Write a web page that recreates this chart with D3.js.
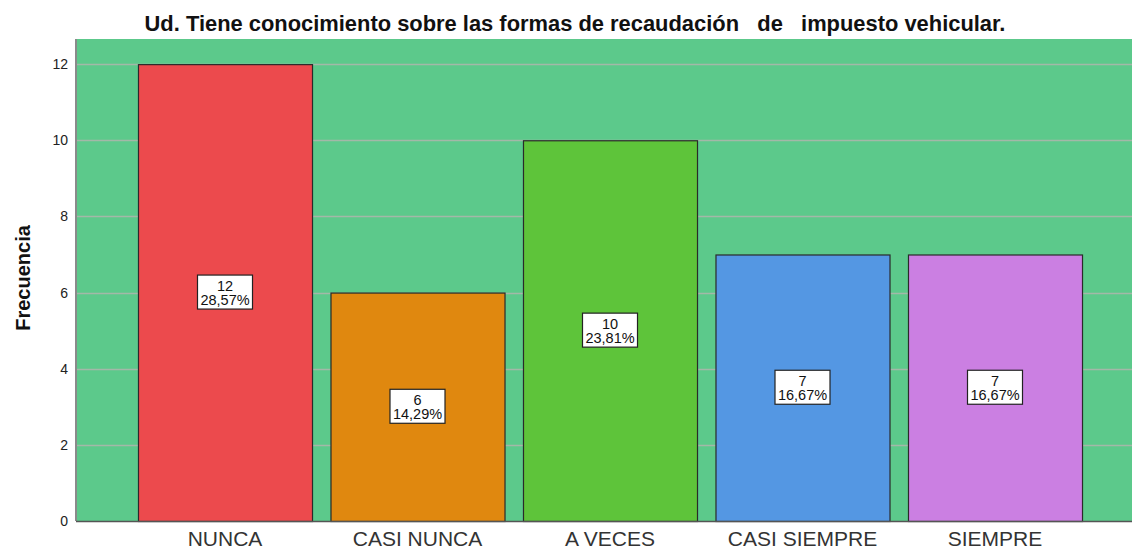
<!DOCTYPE html>
<html>
<head>
<meta charset="utf-8">
<script src="https://cdn.jsdelivr.net/npm/d3@7"></script>
<style>
  body { margin: 0; background: #fff; }
  svg { display: block; font-family: "Liberation Sans", Arial, sans-serif; }
</style>
</head>
<body>
<div id="chart"></div>
<script>
const categories = ['NUNCA', 'CASI NUNCA', 'A VECES', 'CASI SIEMPRE', 'SIEMPRE'];
const counts = [12, 6, 10, 7, 7];
const percents = ['28,57%', '14,29%', '23,81%', '16,67%', '16,67%'];
const colors = ['#ec4a4d', '#e0880f', '#5ec43a', '#5497e3', '#cb7fe2'];
const yTicks = [0, 2, 4, 6, 8, 10, 12];
const title = 'Ud. Tiene conocimiento sobre las formas de recaudación   de   impuesto vehicular.';

const W = 1132, H = 548;
const plot = { left: 76, right: 1132, top: 39, bottom: 521 };

const svg = d3.select('#chart').append('svg')
  .attr('width', W)
  .attr('height', H);

// Scales
const x = d3.scaleBand()
  .domain(categories)
  .range([128.75, 1091.25])
  .paddingInner(0.096)
  .paddingOuter(0.048);

const y = d3.scaleLinear()
  .domain([0, 12.66])
  .range([plot.bottom, plot.top]);

// Plot background
svg.append('rect')
  .attr('x', plot.left)
  .attr('y', plot.top)
  .attr('width', plot.right - plot.left)
  .attr('height', plot.bottom - plot.top)
  .attr('fill', '#5cc98b');

// Gridlines
svg.append('g')
  .selectAll('line')
  .data(yTicks.filter(d => d > 0))
  .enter()
  .append('line')
  .attr('x1', plot.left)
  .attr('x2', plot.right)
  .attr('y1', d => Math.round(y(d)) + 0.5)
  .attr('y2', d => Math.round(y(d)) + 0.5)
  .attr('stroke', '#a3b8a8')
  .attr('stroke-width', 1.5);

// Y axis
const yAxis = svg.append('g')
  .attr('transform', `translate(${plot.left},0)`)
  .call(d3.axisLeft(y).tickValues(yTicks).tickSize(0).tickPadding(8));
yAxis.select('.domain')
  .attr('stroke', '#8a8a8a')
  .attr('stroke-width', 2)
  .attr('d', `M0,${plot.top}V${plot.bottom}`);
yAxis.selectAll('text')
  .attr('font-size', '14px')
  .attr('fill', '#222')
  .style('font-family', '"Liberation Sans", Arial, sans-serif');

// Bars
svg.append('g')
  .selectAll('rect')
  .data(categories)
  .enter()
  .append('rect')
  .attr('x', d => x(d) + 0.5)
  .attr('y', (d, i) => y(counts[i]) + 0.5)
  .attr('width', x.bandwidth())
  .attr('height', (d, i) => y(0) - y(counts[i]))
  .attr('fill', (d, i) => colors[i])
  .attr('stroke', '#2a2a2a')
  .attr('stroke-width', 1.2);

// X axis line
svg.append('line')
  .attr('x1', plot.left)
  .attr('x2', plot.right)
  .attr('y1', plot.bottom + 0.5)
  .attr('y2', plot.bottom + 0.5)
  .attr('stroke', '#555')
  .attr('stroke-width', 1.5);

// X labels
const xAxis = svg.append('g')
  .attr('transform', `translate(0,${plot.bottom})`)
  .call(d3.axisBottom(x).tickSize(0).tickPadding(0));
xAxis.select('.domain').remove();
xAxis.selectAll('text')
  .attr('dy', null)
  .attr('y', 25)
  .attr('font-size', '21px')
  .attr('fill', '#333')
  .style('font-family', '"Liberation Sans", Arial, sans-serif');

// Value labels
const labels = svg.append('g')
  .selectAll('g')
  .data(categories)
  .enter()
  .append('g')
  .attr('transform', (d, i) => `translate(${x(d) + x.bandwidth() / 2},${y(counts[i] / 2)})`);

labels.each(function(d, i) {
  const g = d3.select(this);
  const box = g.append('rect')
    .attr('fill', '#fff')
    .attr('stroke', '#222')
    .attr('stroke-width', 1.2);
  const t1 = g.append('text')
    .attr('text-anchor', 'middle')
    .attr('y', -2)
    .attr('font-size', '14.5px')
    .attr('fill', '#111')
    .text(counts[i]);
  const t2 = g.append('text')
    .attr('text-anchor', 'middle')
    .attr('y', 12)
    .attr('font-size', '14.5px')
    .attr('fill', '#111')
    .text(percents[i]);
  const w = Math.max(t1.node().getBBox().width, t2.node().getBBox().width) + 6;
  box.attr('x', Math.round(-w / 2) + 0.5)
    .attr('y', -17.5)
    .attr('width', Math.round(w))
    .attr('height', 34);
});

// Title
svg.append('text')
  .attr('x', 575)
  .attr('y', 31)
  .attr('text-anchor', 'middle')
  .attr('font-size', '21.9px')
  .attr('font-weight', 'bold')
  .attr('fill', '#111')
  .style('white-space', 'pre')
  .text(title);

// Y axis label
svg.append('text')
  .attr('transform', 'rotate(-90)')
  .attr('x', -278)
  .attr('y', 30)
  .attr('text-anchor', 'middle')
  .attr('font-size', '20px')
  .attr('font-weight', 'bold')
  .attr('fill', '#111')
  .text('Frecuencia');
</script>
</body>
</html>
